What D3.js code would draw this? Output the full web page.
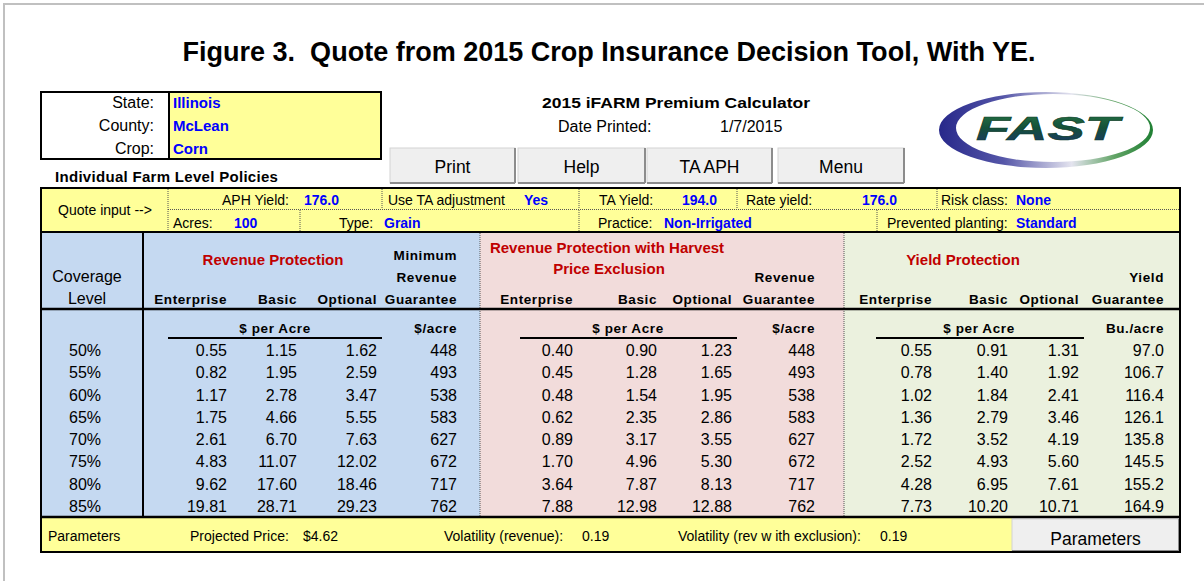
<!DOCTYPE html>
<html>
<head>
<meta charset="utf-8">
<script src="https://cdn.jsdelivr.net/npm/d3@7"></script>
<style>
  body { margin: 0; background: #fff; }
  svg { display: block; font-family: "Liberation Sans", Arial, sans-serif; }
  text { white-space: pre; }
</style>
</head>
<body>
<script>
// ---- data ----
var coverage = ['50%', '55%', '60%', '65%', '70%', '75%', '80%', '85%'];

var rpEnterprise = [0.55, 0.82, 1.17, 1.75, 2.61, 4.83, 9.62, 19.81];
var rpBasic      = [1.15, 1.95, 2.78, 4.66, 6.70, 11.07, 17.60, 28.71];
var rpOptional   = [1.62, 2.59, 3.47, 5.55, 7.63, 12.02, 18.46, 29.23];
var rpGuarantee  = [448, 493, 538, 583, 627, 672, 717, 762];

var hpeEnterprise = [0.40, 0.45, 0.48, 0.62, 0.89, 1.70, 3.64, 7.88];
var hpeBasic      = [0.90, 1.28, 1.54, 2.35, 3.17, 4.96, 7.87, 12.98];
var hpeOptional   = [1.23, 1.65, 1.95, 2.86, 3.55, 5.30, 8.13, 12.88];
var hpeGuarantee  = [448, 493, 538, 583, 627, 672, 717, 762];

var ypEnterprise = [0.55, 0.78, 1.02, 1.36, 1.72, 2.52, 4.28, 7.73];
var ypBasic      = [0.91, 1.40, 1.84, 2.79, 3.52, 4.93, 6.95, 10.20];
var ypOptional   = [1.31, 1.92, 2.41, 3.46, 4.19, 5.60, 7.61, 10.71];
var ypGuarantee  = [97.0, 106.7, 116.4, 126.1, 135.8, 145.5, 155.2, 164.9];

var locationLabels = ['State:', 'County:', 'Crop:'];
var locationValues = ['Illinois', 'McLean', 'Corn'];

var quoteLabels = ['APH Yield:', 'Use TA adjustment', 'TA Yield:', 'Rate yield:', 'Risk class:',
                   'Acres:', 'Type:', 'Practice:', 'Prevented planting:'];
var quoteValues = ['176.0', 'Yes', '194.0', '176.0', 'None',
                   '100', 'Grain', 'Non-Irrigated', 'Standard'];

var paramLabels = ['Projected Price:', 'Volatility (revenue):', 'Volatility (rev w ith exclusion):'];
var paramValues = ['$4.62', '0.19', '0.19'];

var buttons = ['Print', 'Help', 'TA APH', 'Menu'];

// ---- page ----
var W = 1204, H = 581;
var svg = d3.select('body').append('svg')
  .attr('width', W)
  .attr('height', H);
var defs = svg.append('defs');

var yellow = '#ffff99', blueBg = '#c5d9f1', pinkBg = '#f2dcdb', greenBg = '#ebf1de';
var red = '#c00000', blue = '#0000ff';

function txt(x, y, s, o) {
  o = o || {};
  var t = svg.append('text')
    .attr('x', x).attr('y', y)
    .attr('font-size', o.size || 13)
    .attr('text-anchor', o.anchor || 'start')
    .attr('fill', o.fill || '#000')
    .text(s);
  if (o.bold) t.attr('font-weight', 'bold');
  if (o.italic) t.attr('font-style', 'italic');
  if (o.ls) t.attr('letter-spacing', o.ls);
  if (o.tl) t.attr('textLength', o.tl).attr('lengthAdjust', 'spacingAndGlyphs');
  return t;
}
function line(x1, y1, x2, y2, w, dotted) {
  var l = svg.append('line')
    .attr('x1', x1).attr('y1', y1).attr('x2', x2).attr('y2', y2)
    .attr('stroke', dotted ? '#555' : '#000')
    .attr('stroke-width', w || 1);
  if (dotted) l.attr('stroke-dasharray', '1,1');
  return l;
}
function box(x, y, w, h, fill) {
  return svg.append('rect').attr('x', x).attr('y', y).attr('width', w).attr('height', h)
    .attr('fill', fill);
}
function button(x0, x1, y0, y1, label, fs, ty) {
  box(x0, y0, x1 - x0, y1 - y0, '#efefef').attr('stroke', '#d4d4d4');
  line(x1, y0, x1, y1, 2).attr('stroke', '#8c8c8c');
  line(x0, y1, x1, y1, 2).attr('stroke', '#8c8c8c');
  txt((x0 + x1) / 2, ty, label, { size: fs, anchor: 'middle' });
}

// outer frame
svg.append('path').attr('d', 'M4,' + H + 'V4H' + W)
  .attr('fill', 'none').attr('stroke', '#c0c0c0').attr('stroke-width', 2);

// title
txt(609, 61, 'Figure 3.  Quote from 2015 Crop Insurance Decision Tool, With YE.',
  { size: 27, bold: true, anchor: 'middle', tl: 853 });

// location box
box(169, 92, 212, 67, yellow);
svg.append('rect').attr('x', 41).attr('y', 92).attr('width', 340).attr('height', 67)
  .attr('fill', 'none').attr('stroke', '#000').attr('stroke-width', 2);
line(169, 92, 169, 159, 2);
var locY = d3.scalePoint().domain(locationLabels).range([108, 154]);
svg.append('g').selectAll('text').data(locationLabels).enter().append('text')
  .attr('x', 154).attr('y', function(d) { return locY(d); })
  .attr('text-anchor', 'end').attr('font-size', 16).text(function(d) { return d; });
svg.append('g').selectAll('text').data(locationValues).enter().append('text')
  .attr('x', 173).attr('y', function(d, i) { return locY(locationLabels[i]); })
  .attr('font-size', 15).attr('font-weight', 'bold').attr('fill', blue)
  .text(function(d) { return d; });

txt(55, 182, 'Individual Farm Level Policies', { size: 15, bold: true, ls: 0.3 });

// calculator heading
txt(676, 108, '2015 iFARM Premium Calculator', { size: 15, bold: true, anchor: 'middle', tl: 268 });
txt(558, 132, 'Date Printed:', { size: 16 });
txt(720, 132, '1/7/2015', { size: 16 });

// buttons
var btnX = [[390, 515], [518, 645], [647, 772], [778, 904]];
buttons.forEach(function(b, i) {
  button(btnX[i][0], btnX[i][1], 148, 183, b, 17.5, 173);
});

// FAST logo
var g1 = defs.append('linearGradient').attr('id', 'swoosh')
  .attr('x1', 0).attr('x2', 1).attr('y1', 0).attr('y2', 0);
[['0', '#27288a'], ['0.3', '#5556a8'], ['0.62', '#e4e4ef'], ['0.82', '#62a466'], ['1', '#1f7f33']]
  .forEach(function(s) { g1.append('stop').attr('offset', s[0]).attr('stop-color', s[1]); });
var g2 = defs.append('linearGradient').attr('id', 'fastTxt')
  .attr('x1', 0).attr('x2', 0).attr('y1', 0).attr('y2', 1);
[['0', '#2a7a45'], ['0.5', '#14503a'], ['1', '#1c3470']]
  .forEach(function(s) { g2.append('stop').attr('offset', s[0]).attr('stop-color', s[1]); });
function ell(cx, cy, rx, ry) {
  return 'M' + (cx - rx) + ',' + cy + 'a' + rx + ',' + ry + ' 0 1,0 ' + (2 * rx) + ',0' +
    'a' + rx + ',' + ry + ' 0 1,0 ' + (-2 * rx) + ',0Z';
}
svg.append('path')
  .attr('d', ell(1046, 130, 107, 38) + ell(1053, 128, 97, 34))
  .attr('fill-rule', 'evenodd').attr('fill', 'url(#swoosh)');
txt(976, 140, 'FAST', { size: 34, bold: true, italic: true, fill: 'url(#fastTxt)', tl: 143 })
  .attr('stroke', '#0f3d2a').attr('stroke-width', 0.6);

// quote input block
box(41, 188, 1139, 44, yellow);
svg.append('rect').attr('x', 41).attr('y', 188).attr('width', 1139).attr('height', 44)
  .attr('fill', 'none').attr('stroke', '#000').attr('stroke-width', 2);
line(168, 189, 168, 231, 1, true);
line(168, 209.5, 1179, 209.5, 1, true);
[382, 579, 737, 937].forEach(function(x) { line(x, 189, x, 209, 1, true); });
[300, 579, 877].forEach(function(x) { line(x, 210, x, 231, 1, true); });
txt(105, 215, 'Quote input -->', { size: 14, anchor: 'middle' });

var quoteLabelX = [222, 388, 599, 746, 941, 173, 339, 598, 887];
var quoteValueX = [304, 524, 682, 862, 1016, 234, 384, 664, 1016];
svg.append('g').selectAll('text').data(quoteLabels).enter().append('text')
  .attr('x', function(d, i) { return quoteLabelX[i]; })
  .attr('y', function(d, i) { return i < 5 ? 205 : 228; })
  .attr('font-size', 14).text(function(d) { return d; });
svg.append('g').selectAll('text').data(quoteValues).enter().append('text')
  .attr('x', function(d, i) { return quoteValueX[i]; })
  .attr('y', function(d, i) { return i < 5 ? 205 : 228; })
  .attr('font-size', 14).attr('font-weight', 'bold').attr('fill', blue)
  .text(function(d) { return d; });

// main table backgrounds
box(41, 232, 439, 285, blueBg);
box(480, 232, 364, 285, pinkBg);
box(844, 232, 336, 285, greenBg);
line(480, 233, 480, 517, 1, true);
line(844, 233, 844, 517, 1, true);
line(143, 232, 143, 517, 2);
line(41, 309, 1180, 309, 2.5);

// header texts
var hb = { size: 13.5, bold: true, anchor: 'end', ls: 0.6 };
txt(87, 282, 'Coverage', { size: 16, anchor: 'middle' });
txt(87, 304, 'Level', { size: 16, anchor: 'middle' });

txt(273, 265, 'Revenue Protection', { size: 15, bold: true, fill: red, anchor: 'middle' });
txt(457, 260, 'Minimum', hb);
txt(457, 282, 'Revenue', hb);

txt(607, 253, 'Revenue Protection with Harvest', { size: 15, bold: true, fill: red, anchor: 'middle' });
txt(609, 274, 'Price Exclusion', { size: 15, bold: true, fill: red, anchor: 'middle' });
txt(815, 282, 'Revenue', hb);

txt(963, 265, 'Yield Protection', { size: 15, bold: true, fill: red, anchor: 'middle' });
txt(1164, 282, 'Yield', hb);

var sections = [
  { cols: [227, 297, 377, 457], unit: '$/acre', per: 275, rule: [168, 382],
    series: [rpEnterprise, rpBasic, rpOptional, rpGuarantee], gfmt: '.0f' },
  { cols: [573, 657, 732, 815], unit: '$/acre', per: 628, rule: [520, 737],
    series: [hpeEnterprise, hpeBasic, hpeOptional, hpeGuarantee], gfmt: '.0f' },
  { cols: [932, 1008, 1079, 1164], unit: 'Bu./acre', per: 979, rule: [876, 1084],
    series: [ypEnterprise, ypBasic, ypOptional, ypGuarantee], gfmt: '.1f' }
];
var colNames = ['Enterprise', 'Basic', 'Optional', 'Guarantee'];

var y = d3.scalePoint().domain(coverage).range([356, 512]);

svg.append('g').selectAll('text').data(coverage).enter().append('text')
  .attr('x', 85).attr('y', function(d) { return y(d); })
  .attr('text-anchor', 'middle').attr('font-size', 16).text(function(d) { return d; });

sections.forEach(function(s) {
  colNames.forEach(function(n, i) { txt(s.cols[i], 304, n, hb); });
  txt(s.per, 333, '$ per Acre', { size: 13.5, bold: true, anchor: 'middle', ls: 0.6 });
  line(s.rule[0], 338, s.rule[1], 338, 2);
  txt(s.cols[3], 333, s.unit, hb);
  s.series.forEach(function(vals, i) {
    var f = d3.format(i === 3 ? s.gfmt : '.2f');
    svg.append('g').selectAll('text').data(vals).enter().append('text')
      .attr('x', s.cols[i])
      .attr('y', function(d, j) { return y(coverage[j]); })
      .attr('text-anchor', 'end').attr('font-size', 16)
      .text(function(d) { return f(d); });
  });
});

// parameters row
box(41, 517, 971, 35, yellow);
button(1012, 1179, 519, 551, 'Parameters', 17.5, 545);
svg.append('rect').attr('x', 41).attr('y', 232).attr('width', 1139).attr('height', 320)
  .attr('fill', 'none').attr('stroke', '#000').attr('stroke-width', 2);
line(41, 517, 1180, 517, 2.5);
txt(48, 541, 'Parameters', { size: 14 });
var paramLabelX = [190, 444, 678];
var paramValueX = [303, 582, 880];
svg.append('g').selectAll('text').data(paramLabels).enter().append('text')
  .attr('x', function(d, i) { return paramLabelX[i]; }).attr('y', 541)
  .attr('font-size', 14).text(function(d) { return d; });
svg.append('g').selectAll('text').data(paramValues).enter().append('text')
  .attr('x', function(d, i) { return paramValueX[i]; }).attr('y', 541)
  .attr('font-size', 14).text(function(d) { return d; });
</script>
</body>
</html>
